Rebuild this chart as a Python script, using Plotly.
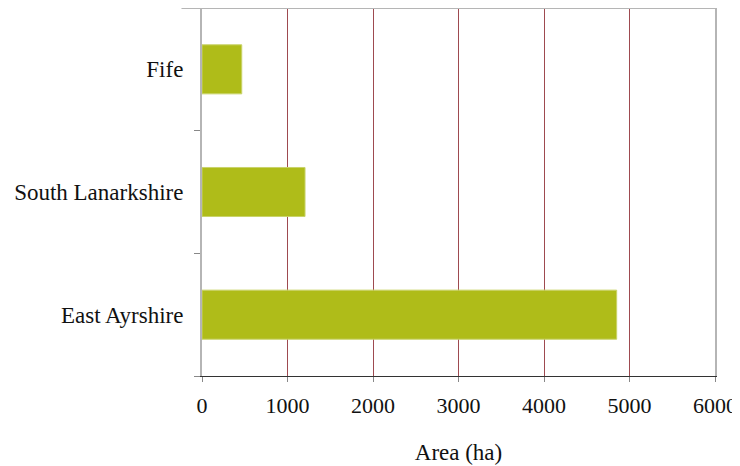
import plotly.graph_objects as go

regions = ["East Ayrshire", "South Lanarkshire", "Fife"]
area_ha = [4850, 1205, 465]
x_ticks = [0, 1000, 2000, 3000, 4000, 5000, 6000]

fig = go.Figure(go.Bar(
    y=regions, x=area_ha, orientation="h",
    marker=dict(color="#AFBC19", line=dict(color="#C9D36A", width=1)),
    width=0.4,
))

font = dict(family="Liberation Serif, Times New Roman, serif", size=23, color="#111111")
xfont = dict(family="Liberation Serif, Times New Roman, serif", size=22, color="#111111")

# The page body adds an 8px offset; margins compensate for it.
fig.update_layout(
    width=740, height=466, autosize=False,
    margin=dict(l=194, r=33, t=0, b=98, autoexpand=False),
    paper_bgcolor="white", plot_bgcolor="white",
    font=font,
    showlegend=False,
    bargap=0.6,
    xaxis=dict(
        range=[0, 6000], tickvals=x_ticks, ticktext=[str(v) for v in x_ticks],
        showgrid=True, gridcolor="#9E4A50", gridwidth=1,
        zeroline=False, automargin=False,
        showline=True, linecolor="#333333", linewidth=1,
        ticks="outside", ticklen=5, tickcolor="#888888",
        ticklabelstandoff=5,
        title=dict(text="Area (ha)", standoff=26, font=font),
        tickfont=xfont,
    ),
    yaxis=dict(
        showgrid=False, zeroline=False, automargin=False,
        showline=True, linecolor="#B5B5B5", linewidth=2, mirror=True,
        ticks="outside", tickson="boundaries", ticklen=6, tickcolor="#888888",
        tickfont=font, ticklabelstandoff=12,
    ),
    shapes=[dict(type="line", xref="paper", yref="paper", x0=-0.04, x1=1, y0=1, y1=1,
                 line=dict(color="#B5B5B5", width=2))],
)

fig.write_html("out.html")
